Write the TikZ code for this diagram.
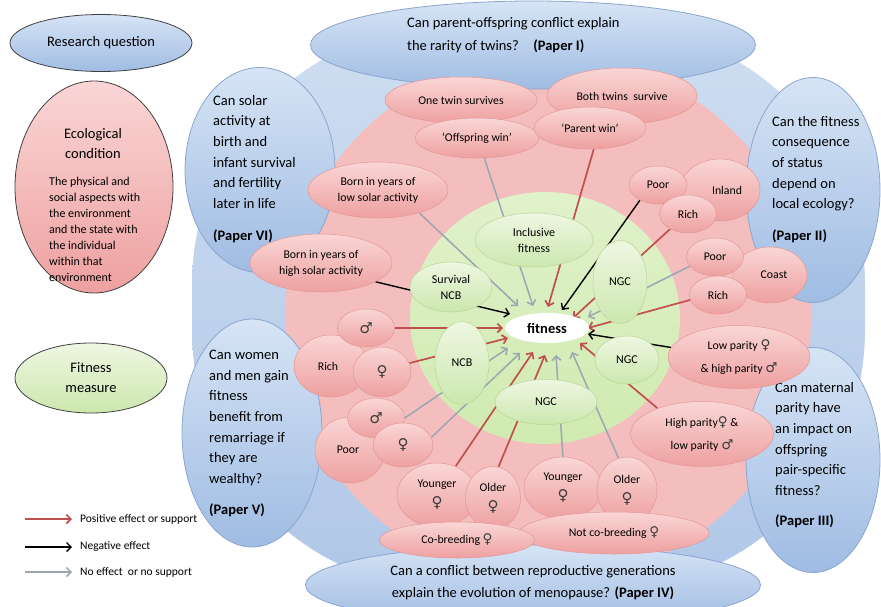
\documentclass[tikz,border=0pt]{standalone}
\usepackage{fontspec}
\setmainfont{Carlito}
\newfontfamily\symf{DejaVu Sans}
\usetikzlibrary{shapes.geometric,arrows.meta}
\pgfdeclarelayer{bg}
\pgfdeclarelayer{lines}
\pgfsetlayers{bg,lines,main}
\definecolor{bgblueT}{RGB}{206,221,241}
\definecolor{bgblueB}{RGB}{176,199,231}
\definecolor{paperT}{RGB}{214,228,245}
\definecolor{paperB}{RGB}{160,188,227}
\definecolor{paperD}{RGB}{138,166,208}
\definecolor{pinkdisk}{RGB}{244,190,190}
\definecolor{pinkT}{RGB}{250,214,214}
\definecolor{pinkB}{RGB}{238,160,160}
\definecolor{pinkD}{RGB}{228,150,150}
\definecolor{greendiskT}{RGB}{224,242,202}
\definecolor{greendiskB}{RGB}{208,234,176}
\definecolor{greenT}{RGB}{238,247,226}
\definecolor{greenB}{RGB}{204,231,174}
\definecolor{greenD}{RGB}{186,214,152}
\definecolor{redline}{RGB}{192,80,77}
\definecolor{grayline}{RGB}{155,166,178}
\definecolor{symcol}{RGB}{60,60,60}
\newcommand\fem[1][13.5pt]{{\symf\fontsize{#1}{#1}\selectfont\color{symcol}♀}}
\newcommand\mal[1][13.5pt]{{\symf\fontsize{#1}{#1}\selectfont\color{symcol}♂}}
\begin{document}
\begin{tikzpicture}[x=1pt,y=-1pt,
  sz/.style 2 args={minimum width=#1, minimum height=#2},
  paperell/.style={ellipse, draw=paperD, line width=0.8pt, top color=paperT, bottom color=paperB, inner sep=0pt},
  pinkell/.style={ellipse, draw=pinkD, line width=0.5pt, top color=pinkT, bottom color=pinkB, inner sep=0pt, align=center, font=\fontsize{11.8}{16}\selectfont},
  greenell/.style={ellipse, draw=greenD, line width=0.5pt, top color=greenT, bottom color=greenB, inner sep=0pt, align=center, font=\fontsize{12}{16}\selectfont},
  ptext/.style={align=left, inner sep=0pt, font=\fontsize{14.5}{20.6}\selectfont},
  legell/.style={ellipse, draw=black!75, line width=0.8pt, inner sep=0pt, align=center, font=\fontsize{14.5}{20}\selectfont},
  legtext/.style={anchor=west, inner sep=0pt, font=\fontsize{11.5}{14}\selectfont},
  arrR/.style={draw=redline, line width=1.7pt, -{Straight Barb[length=4.5pt,width=9pt]}},
  arrK/.style={draw=black, line width=1.4pt, -{Straight Barb[length=4.5pt,width=9pt]}},
  arrG/.style={draw=grayline, line width=1.5pt, -{Straight Barb[length=4.5pt,width=9pt]}}
]
\useasboundingbox (0,0) rectangle (881,606);
\begin{pgfonlayer}{bg}
  \fill[white] (0,0) rectangle (881,606);
  \shade[top color=bgblueT, bottom color=bgblueB, rounded corners=260pt] (192,25) rectangle (865,590);
  \fill[pinkdisk] (548,318) circle[radius=263pt];
  \shade[top color=greendiskT, bottom color=greendiskB] (545,318) ellipse[x radius=135pt, y radius=126pt];
  \node[paperell, sz={445pt}{88pt}] (pI) at (533,45) {};
  \node[paperell, sz={134pt}{225pt}] (pII) at (813,190) {};
  \node[paperell, sz={134pt}{225pt}] (pIII) at (813,460) {};
  \node[paperell, sz={455pt}{80pt}] (pIV) at (533,585) {};
  \node[paperell, sz={140pt}{228pt}] (pV) at (252,433) {};
  \node[paperell, sz={150pt}{205pt}] (pVI) at (260,170) {};
\end{pgfonlayer}

% paper texts
\node[ptext, anchor=north west, font=\fontsize{14.5}{23}\selectfont] (tI) at (407,17) {Can parent-offspring conflict explain\\the rarity of twins?\quad\textbf{(Paper I)}};
\node[ptext, anchor=north west] (tII) at (772,116) {Can the fitness\\consequence\\of status\\depend on\\local ecology?\\[11pt]\textbf{(Paper II)}};
\node[ptext, anchor=north west] (tIII) at (775,382) {Can maternal\\parity have\\an impact on\\offspring\\pair-specific\\fitness?\\[10pt]\textbf{(Paper III)}};
\node[ptext, anchor=north, align=center, font=\fontsize{14.5}{22}\selectfont] (tIV) at (533,565) {Can a conflict between reproductive generations\\explain the evolution of menopause? \textbf{(Paper IV)}};
\node[ptext, anchor=north west] (tV) at (209,350) {Can women\\and men gain\\fitness\\benefit from\\remarriage if\\they are\\wealthy?\\[11pt]\textbf{(Paper V)}};
\node[ptext, anchor=north west] (tVI) at (213,95) {Can solar\\activity at\\birth and\\infant survival\\and fertility\\later in life\\[12pt]\textbf{(Paper VI)}};

% legend
\node[legell, sz={182pt}{57pt}, top color=paperT, bottom color=paperB] (rq) at (101,43) {Research question};
\node[legell, sz={158pt}{212pt}, top color=pinkT, bottom color=pinkB] (eco) at (94,187) {};
\node[inner sep=0pt, align=center, anchor=north, font=\fontsize{14.5}{20}\selectfont] (ecot) at (93,128) {Ecological\\condition};
\node[inner sep=0pt, align=left, anchor=north west, font=\fontsize{12}{16}\selectfont] (ecob) at (49,177) {The physical and\\social aspects with\\the environment\\and the state with\\the individual\\within that\\environment};
\node[legell, sz={152pt}{70pt}, top color=greenT, bottom color=greenB] (fm) at (91,378) {Fitness\\measure};
\coordinate (la1) at (25,519); \coordinate (lb1) at (72,519);
\coordinate (la2) at (25,547); \coordinate (lb2) at (72,547);
\coordinate (la3) at (25,572); \coordinate (lb3) at (72,572);
\draw[arrR] (la1) -- (lb1);
\draw[arrK] (la2) -- (lb2);
\draw[arrG] (la3) -- (lb3);
\node[legtext] (lt1) at (80,519) {Positive effect or support};
\node[legtext] (lt2) at (80,547) {Negative effect};
\node[legtext] (lt3) at (80,572) {No effect\ \ or no support};

% pink nodes
\node[pinkell, sz={152pt}{46pt}] (one) at (461,100) {One twin survives};
\node[pinkell, sz={124pt}{40pt}] (offw) at (477,138) {‘Offspring win’};
\node[pinkell, sz={150pt}{56pt}] (both) at (622,96) {Both twins\ \ survive};
\node[pinkell, sz={112pt}{42pt}] (parw) at (590,128) {‘Parent win’};
\node[pinkell, sz={140pt}{56pt}] (bornlow) at (378,190) {Born in years of\\low solar activity};
\node[pinkell, sz={142pt}{58pt}] (bornhigh) at (321,263) {Born in years of\\high solar activity};
\node[pinkell, sz={80pt}{62pt}] (inland) at (720,190) {\hspace*{14pt}Inland};
\node[pinkell, sz={58pt}{38pt}] (poorA) at (658,185) {Poor};
\node[pinkell, sz={57pt}{38pt}] (richA) at (688,214) {Rich};
\node[pinkell, sz={74pt}{56pt}] (coast) at (770,275) {\hspace*{8pt}Coast};
\node[pinkell, sz={57pt}{38pt}] (poorB) at (715,257) {Poor};
\node[pinkell, sz={57pt}{38pt}] (richB) at (718,295) {Rich};
\node[pinkell, sz={142pt}{63pt}, font=\fontsize{11.8}{23}\selectfont] (lowpar) at (739,357) {Low parity \fem\\\& high parity \mal};
\node[pinkell, sz={143pt}{65pt}, font=\fontsize{11.8}{23}\selectfont] (highpar) at (702,434) {High parity\fem\ \&\\low parity \mal};
\node[pinkell, sz={78pt}{62pt}, font=\fontsize{11.8}{20}\selectfont] (youngerR) at (563,488) {Younger\\\fem[15pt]};
\node[pinkell, sz={60pt}{66pt}, font=\fontsize{11.8}{20}\selectfont] (olderR) at (627,490) {Older\\\fem[15pt]};
\node[pinkell, sz={190pt}{42pt}] (notco) at (614,533) {Not co-breeding \fem};
\node[pinkell, sz={80pt}{64pt}, font=\fontsize{11.8}{20}\selectfont] (youngerL) at (437,495) {Younger\\\fem[15pt]};
\node[pinkell, sz={55pt}{63pt}, font=\fontsize{11.8}{20}\selectfont] (olderL) at (493,498) {Older\\\fem[15pt]};
\node[pinkell, sz={155pt}{36pt}] (cobreed) at (457,540) {Co-breeding \fem};
\node[pinkell, sz={74pt}{62pt}] (richL) at (331,366) {Rich\hspace*{6pt}};
\node[pinkell, sz={57pt}{38pt}] (maleR) at (366,328) {\mal[15pt]};
\node[pinkell, sz={58pt}{50pt}] (femR) at (382,372) {\fem[15pt]};
\node[pinkell, sz={70pt}{66pt}] (poorL) at (350,450) {Poor\hspace*{4pt}};
\node[pinkell, sz={57pt}{40pt}] (maleP) at (376,418) {\mal[15pt]};
\node[pinkell, sz={60pt}{44pt}] (femP) at (403,445) {\fem[15pt]};

% green nodes
\node[greenell, sz={118pt}{54pt}] (incl) at (534,240) {Inclusive\\fitness};
\node[greenell, sz={82pt}{50pt}] (survncb) at (451,287) {Survival\\NCB};
\node[greenell, sz={54pt}{83pt}] (ngcA) at (620,282) {NGC};
\node[greenell, sz={54pt}{83pt}] (ncb) at (462,363) {NCB};
\node[greenell, sz={102pt}{45pt}] (ngcB) at (546,402) {NGC};
\node[greenell, sz={64pt}{48pt}] (ngcC) at (627,360) {NGC};

% fitness
\node[ellipse, fill=white, inner sep=0pt, sz={84pt}{30pt}, font=\bfseries\fontsize{14.5}{16}\selectfont] (fit) at (547,328) {fitness};

% tips
\coordinate (t1) at (533,306);
\coordinate (t2) at (518,306);
\coordinate (t3) at (548,307);
\coordinate (t4) at (562,310);
\coordinate (t5) at (573,318);
\coordinate (t6) at (588,317);
\coordinate (t7) at (588,328);
\coordinate (t8) at (588,334);
\coordinate (t9) at (580,343);
\coordinate (t10) at (572,352);
\coordinate (t11) at (556,355);
\coordinate (t12) at (545,355);
\coordinate (t13) at (533,352);
\coordinate (t14) at (520,353);
\coordinate (t15) at (508,348);
\coordinate (t16) at (508,338);
\coordinate (t17) at (503,328);
\coordinate (t18) at (510,314);

\begin{pgfonlayer}{lines}
  \draw[arrG] (offw.-70) -- (t1);
  \draw[arrG] (bornlow.-29) -- (t2);
  \draw[arrR] (parw.-80) -- (t3);
  \draw[arrK] (poorA.-140) -- (t4);
  \draw[arrR] (richA.-140) -- (t5);
  \draw[arrG] (poorB.-160) -- (t6);
  \draw[arrR] (richB.-170) -- (t7);
  \draw[arrK] (lowpar.172) -- (t8);
  \draw[arrR] (highpar.150) -- (t9);
  \draw[arrG] (olderR.105) -- (t10);
  \draw[arrG] (youngerR.north) -- (t11);
  \draw[arrR] (olderL.80) -- (t12);
  \draw[arrR] (youngerL.57) -- (t13);
  \draw[arrG] (femP.15) -- (t14);
  \draw[arrG] (maleP.east) -- (t15);
  \draw[arrR] (femR.18) -- (t16);
  \draw[arrR] (maleR.east) -- (t17);
  \draw[arrK] (bornhigh.-19) -- (t18);
\end{pgfonlayer}
\end{tikzpicture}
\end{document}
